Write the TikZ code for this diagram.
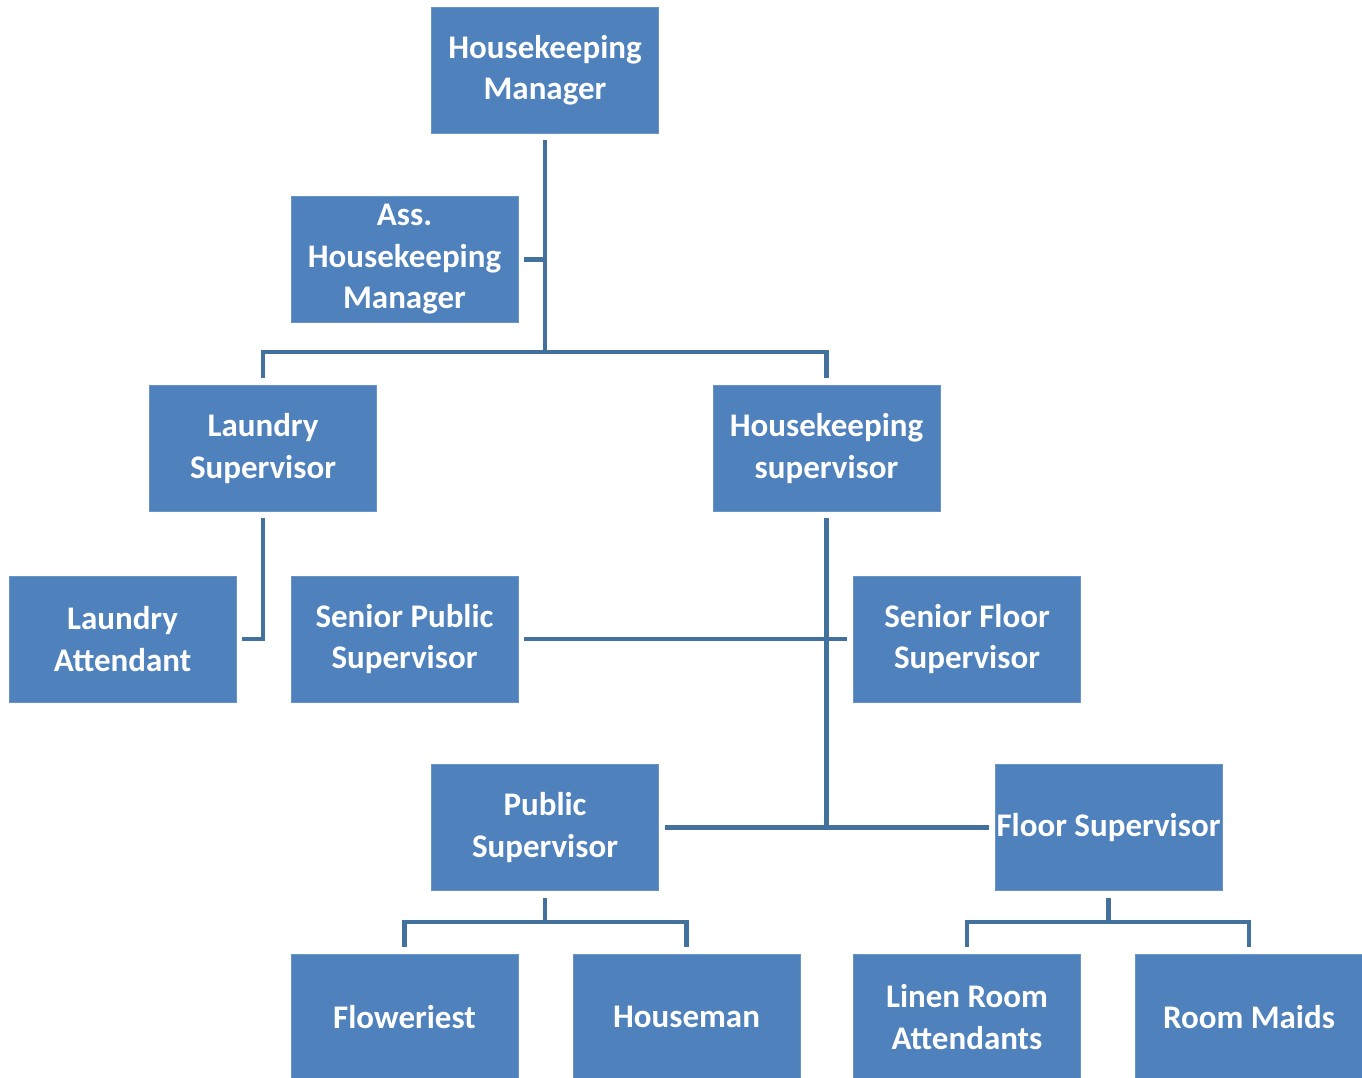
\documentclass[tikz,border=0pt]{standalone}
\usepackage{fontspec}
\setmainfont{Carlito}
\definecolor{boxblue}{HTML}{4F81BD}
\definecolor{lineblue}{HTML}{41719C}
\tikzset{
  role/.style={rectangle, fill=boxblue, draw=boxblue!85!white, line width=0.8pt,
    minimum width=227pt, minimum height=126pt, inner sep=0pt,
    text=white, align=center,
    font=\fontsize{33}{41.5}\selectfont\bfseries},
  link/.style={draw=lineblue, line width=4.5pt, line join=miter}
}
\begin{document}
\begin{tikzpicture}[x=1pt, y=-1pt]
\useasboundingbox (0,0) rectangle (1362,1078);
\clip (0,0) rectangle (1362,1078);
\fill[white] (0,0) rectangle (1362,1078);

% staff boxes
\node[role] (hm)  at (545,70)    {Housekeeping\\Manager};
\node[role] (ahm) at (404.5,259.5) {Ass.\\Housekeeping\\Manager};
\node[role] (ls)  at (263,448.5) {Laundry\\Supervisor};
\node[role] (hs)  at (826.5,448.5) {Housekeeping\\supervisor};
\node[role] (la)  at (122.5,639) {Laundry\\Attendant};
\node[role] (sps) at (404.5,639) {Senior Public\\Supervisor};
\node[role] (sfs) at (967,639)   {Senior Floor\\Supervisor};
\node[role] (ps)  at (545,827.5) {Public\\Supervisor};
\node[role] (fs)  at (1108.5,827.5) {Floor Supervisor};
\node[role] (flo) at (404.5,1017) {Floweriest};
\node[role] (hou) at (686.5,1017) {Houseman};
\node[role] (lin) at (967,1017)  {Linen Room\\Attendants};
\node[role] (rm)  at (1249,1017) {Room Maids};

% bus lines
\coordinate (topbus) at (545,352);
\coordinate (psbus) at ([yshift=-31pt]ps.south);
\coordinate (fsbus) at ([yshift=-31pt]fs.south);

% connectors
\draw[link] ([yshift=-7pt]hm.south) -- (hm.south |- topbus);
\draw[link] ([xshift=6pt]ahm.east) -- (ahm.east -| hm.south);
\draw[link] ([yshift=7pt]ls.north) -- (ls.north |- topbus) -- (hs.north |- topbus) -- ([yshift=7pt]hs.north);
\draw[link] ([yshift=-6pt]ls.south) |- ([xshift=6pt]la.east);
\draw[link] ([yshift=-6pt]hs.south) -- (hs.south |- ps.east);
\draw[link] ([xshift=6pt]sps.east) -- ([xshift=-6pt]sfs.west);
\draw[link] ([xshift=6pt]ps.east) -- ([xshift=-6pt]fs.west);
\draw[link] ([yshift=-7pt]ps.south) -- (psbus);
\draw[link] ([yshift=7pt]flo.north) -- (flo.north |- psbus) -- (hou.north |- psbus) -- ([yshift=7pt]hou.north);
\draw[link] ([yshift=-7pt]fs.south) -- (fsbus);
\draw[link] ([yshift=7pt]lin.north) -- (lin.north |- fsbus) -- (rm.north |- fsbus) -- ([yshift=7pt]rm.north);
\end{tikzpicture}
\end{document}
